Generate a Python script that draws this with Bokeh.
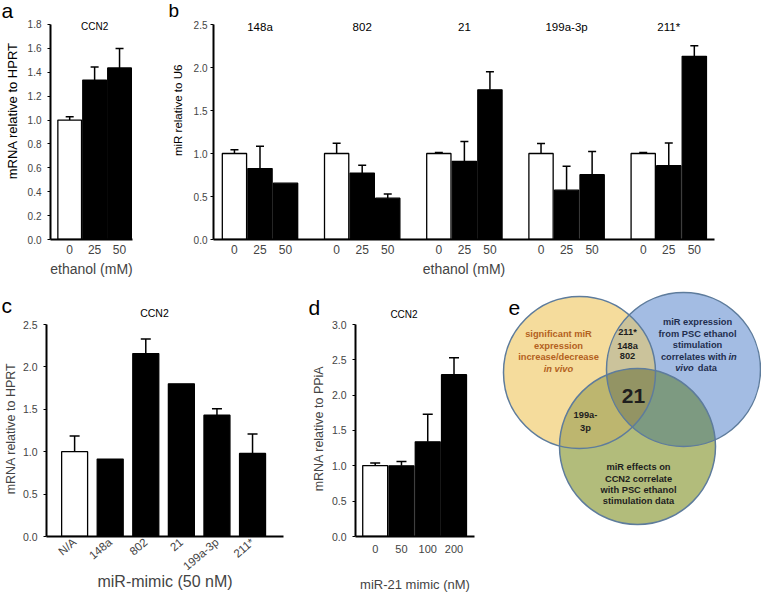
import numpy as np
from bokeh.plotting import figure
from bokeh.models import (ColumnDataSource, FixedTicker, Label, LabelSet, Range1d,
                          PrintfTickFormatter)
from bokeh.layouts import row, column
from bokeh.embed import file_html
from bokeh.resources import INLINE
from bokeh.core.properties import value

FONT = "Liberation Sans"

# ---------------- data ----------------
a_doses = ["0", "25", "50"]
a_mean = [1.00, 1.335, 1.436]
a_sem = [0.027, 0.11, 0.163]

b_mirs = ["148a", "802", "21", "199a-3p", "211*"]
b_doses = ["0", "25", "50"]
b_mean = [[1.00, 0.825, 0.655],
          [1.00, 0.772, 0.480],
          [1.00, 0.909, 1.740],
          [1.00, 0.573, 0.753],
          [1.00, 0.858, 2.130]]
b_sem = [[0.045, 0.26, 0.0],
         [0.12, 0.09, 0.05],
         [0.012, 0.23, 0.21],
         [0.115, 0.28, 0.27],
         [0.012, 0.265, 0.124]]

c_mimics = ["N/A", "148a", "802", "21", "199a-3p", "211*"]
c_mean = [1.00, 0.913, 2.157, 1.80, 1.43, 0.98]
c_sem = [0.186, 0.0, 0.173, 0.0, 0.076, 0.23]

d_conc = ["0", "50", "100", "200"]
d_mean = [1.003, 1.00, 1.34, 2.29]
d_sem = [0.037, 0.06, 0.39, 0.24]

panel_titles = ["CCN2", "CCN2", "CCN2"]  # panels a, c, d
panel_letters = ["a", "b", "c", "d", "e"]
a_ylabel = "mRNA relative to HPRT"
b_ylabel = "miR relative to U6"

venn_yellow = ["significant miR", "expression", "increase/decrease"]
venn_yellow_italic = "in vivo"
venn_blue = ["miR expression", "from PSC ethanol", "stimulation"]
venn_blue_mixed = [("correlates with", "in"), ("vivo", "data")]
venn_green = ["miR effects on", "CCN2 correlate", "with PSC ethanol", "stimulation data"]
venn_yb = ["211*", "148a", "802"]
venn_yg = ["199a-", "3p"]
venn_all = "21"


# ---------------- helpers ----------------
def make_fig(w, h, xr, ymax, ytop, ystep, bl, br, bb):
    p = figure(width=w, height=h, x_range=Range1d(*xr), y_range=Range1d(0, ytop),
               output_backend="svg", toolbar_location=None, title=None,
               min_border_left=bl, min_border_right=br, min_border_top=0,
               min_border_bottom=bb)
    p.grid.visible = False
    p.outline_line_color = None
    p.background_fill_color = "white"
    p.border_fill_color = "white"
    n = int(round(ymax / ystep))
    ya = p.yaxis[0]
    ya.bounds = (0, ymax)
    ya.ticker = FixedTicker(ticks=[round(i * ystep, 3) for i in range(n + 1)], minor_ticks=[])
    ya.formatter = PrintfTickFormatter(format="%.1f")
    ya.axis_line_width = 2
    ya.major_tick_out = 3
    ya.major_tick_in = 0
    ya.minor_tick_out = 0
    ya.minor_tick_in = 0
    ya.major_label_text_font = FONT
    ya.major_label_text_font_size = "10px"
    ya.axis_label_text_font = FONT
    ya.axis_label_text_font_style = "normal"
    xa = p.xaxis[0]
    xa.axis_line_width = 2
    xa.major_tick_out = 0
    xa.major_tick_in = 0
    xa.minor_tick_out = 0
    xa.minor_tick_in = 0
    xa.major_label_text_font = FONT
    xa.axis_label_text_font = FONT
    xa.axis_label_text_font_style = "normal"
    return p


def strip(w, h):
    s = figure(width=w, height=h, x_range=Range1d(0, w), y_range=Range1d(0, h),
               output_backend="svg", toolbar_location=None, title=None, min_border=0,
               x_axis_location=None, y_axis_location=None)
    s.grid.visible = False
    s.outline_line_color = None
    s.background_fill_color = "white"
    s.border_fill_color = "white"
    return s


def stext(s, x, y, txt, size, align="left", baseline="middle", angle=0.0):
    s.text(x=[x], y=[y], text=[txt], text_font=value(FONT), text_font_size=value(size),
           text_align=align, text_baseline=baseline, text_color="black", angle=angle)


def set_xticks(p, xs, labels):
    xa = p.xaxis[0]
    xa.ticker = FixedTicker(ticks=list(xs), minor_ticks=[])
    xa.major_label_overrides = {int(x): l for x, l in zip(xs, labels)}


def draw_bars(p, xs, means, sems, width, ctrl, cap):
    fills = ["white" if i in ctrl else "black" for i in range(len(xs))]
    src = ColumnDataSource(dict(x=list(xs), top=list(means), fill=fills))
    ex = [x for x, s in zip(xs, sems) if s > 0]
    lo = [m for m, s in zip(means, sems) if s > 0]
    hi = [m + s for m, s in zip(means, sems) if s > 0]
    p.segment(x0=ex, y0=lo, x1=ex, y1=hi, line_color="black", line_width=1.5)
    p.scatter(x=ex, y=hi, marker="dash", size=cap, line_color="black", line_width=1.5)
    p.vbar(x="x", top="top", width=width, fill_color="fill", line_color="black",
           line_width=1.3, source=src)


# ---------------- side columns for panel a / b (letter + y label) ----------------
side_a = strip(24, 285)
stext(side_a, 1, 272.5, panel_letters[0], "21px")
stext(side_a, 12, 153.5, a_ylabel, "13px", align="center", angle=np.pi / 2)

side_b = strip(50, 285)
stext(side_b, 28, 273, panel_letters[1], "19px")
stext(side_b, 37, 154, b_ylabel, "11.5px", align="center", angle=np.pi / 2)

# strip above panels c / d (letters + titles)
cd_strip = strip(492, 35)
stext(cd_strip, 1, 15, panel_letters[2], "21px")
stext(cd_strip, 308, 13.3, panel_letters[3], "21px")
stext(cd_strip, 154, 8, panel_titles[1], "10.5px", align="center")
stext(cd_strip, 403.5, 6.5, panel_titles[2], "10px", align="center")

# ---------------- panel a ----------------
pa = make_fig(116, 285, (-0.77, 2.52), 1.8, 2.0009, 0.2, 24, 8, 46)
ax = list(range(len(a_doses)))
draw_bars(pa, ax, a_mean, a_sem, 0.95, [0], 8)
set_xticks(pa, ax, a_doses)
pa.yaxis[0].major_label_standoff = 6
pa.xaxis[0].axis_label = "ethanol (mM)"
pa.xaxis[0].axis_label_text_font_size = "14px"
pa.xaxis[0].major_label_text_font_size = "12px"
pa.xaxis[0].major_label_standoff = 5
pa.xaxis[0].axis_label_standoff = 4
pa.add_layout(Label(x=1, y=1.8, text=panel_titles[0], text_font=FONT, text_font_size="10px",
                    text_align="center", text_baseline="middle", y_offset=-2,
                    text_color="black"))

# ---------------- panel b ----------------
G = 4
pb = make_fig(571, 285, (-0.82, 18.79), 2.5, 2.7791, 0.5, 21, 47, 46)
bx, blab, bm, bs, bctrl = [], [], [], [], []
for g in range(len(b_mirs)):
    for j in range(len(b_doses)):
        if j == 0:
            bctrl.append(len(bx))
        bx.append(g * G + j)
        blab.append(b_doses[j])
        bm.append(b_mean[g][j])
        bs.append(b_sem[g][j])
draw_bars(pb, bx, bm, bs, 0.95, bctrl, 8)
set_xticks(pb, bx, blab)
pb.yaxis[0].major_label_standoff = 3
pb.xaxis[0].axis_label = "ethanol (mM)"
pb.xaxis[0].axis_label_text_font_size = "14px"
pb.xaxis[0].major_label_text_font_size = "12px"
pb.xaxis[0].major_label_standoff = 5
pb.xaxis[0].axis_label_standoff = 4
bt_src = ColumnDataSource(dict(x=[g * G + 1 for g in range(len(b_mirs))],
                               y=[2.5] * len(b_mirs), t=b_mirs))
pb.add_layout(LabelSet(x="x", y="y", text="t", source=bt_src, text_align="center",
                       text_baseline="middle", y_offset=-2, text_font=value(FONT),
                       text_font_size=value("11.5px"), text_color="black"))

# ---------------- panel c ----------------
pc = make_fig(308, 274, (-0.79, 5.87), 2.5, 2.547, 0.5, 46, 25, 57)
cx = list(range(len(c_mimics)))
draw_bars(pc, cx, c_mean, c_sem, 0.73, [0], 10)
set_xticks(pc, cx, c_mimics)
pc.xaxis[0].major_label_orientation = 0.7
pc.xaxis[0].major_label_text_font_size = "11.5px"
pc.xaxis[0].major_label_standoff = 4
pc.xaxis[0].axis_label = "miR-mimic (50 nM)"
pc.xaxis[0].axis_label_text_font_size = "16px"
pc.xaxis[0].axis_label_standoff = -7
pc.yaxis[0].axis_label = "mRNA relative to HPRT"
pc.yaxis[0].axis_label_text_font_size = "12.5px"
pc.yaxis[0].major_label_text_font_size = "10.5px"
pc.yaxis[0].major_label_standoff = 6
pc.yaxis[0].axis_label_standoff = 2

# ---------------- panel d ----------------
pd_ = make_fig(184, 274, (-0.75, 3.78), 3.0, 3.056, 0.5, 44, 18, 56)
dx = list(range(len(d_conc)))
draw_bars(pd_, dx, d_mean, d_sem, 0.95, [0], 10)
set_xticks(pd_, dx, d_conc)
pd_.xaxis[0].major_label_text_font_size = "11px"
pd_.xaxis[0].major_label_standoff = 8
pd_.xaxis[0].axis_label = "miR-21 mimic (nM)"
pd_.xaxis[0].axis_label_text_font_size = "13px"
pd_.xaxis[0].axis_label_standoff = 21
pd_.yaxis[0].axis_label = "mRNA relative to PPiA"
pd_.yaxis[0].axis_label_text_font_size = "12.5px"
pd_.yaxis[0].major_label_text_font_size = "10.5px"
pd_.yaxis[0].major_label_standoff = 6
pd_.yaxis[0].axis_label_standoff = 3

# ---------------- panel e (Venn) ----------------
W_E, H_E = 269, 309
pe = strip(W_E, H_E)

# circle layout (yellow, blue, green): centre x, centre y, radius
circles = [(87.0, 222.0, 76.0), (191.0, 225.0, 77.0), (145.0, 148.0, 78.0)]
solo_cols = ["#F5DC9C", "#A3BCE3", "#B2BC7B"]


def circ_pts(c, n=600):
    t = np.linspace(0, 2 * np.pi, n, endpoint=False)
    return np.c_[c[0] + c[2] * np.cos(t), c[1] + c[2] * np.sin(t)]


def region(cs):
    pts = []
    for i, c in enumerate(cs):
        b = circ_pts(c)
        m = np.ones(len(b), bool)
        for j, o in enumerate(cs):
            if j != i:
                m &= np.hypot(b[:, 0] - o[0], b[:, 1] - o[1]) <= o[2]
        pts.append(b[m])
    P = np.vstack(pts)
    ctr = P.mean(axis=0)
    order = np.argsort(np.arctan2(P[:, 1] - ctr[1], P[:, 0] - ctr[0]))
    return P[order]


pe.circle(x=[c[0] for c in circles], y=[c[1] for c in circles],
          radius=[c[2] for c in circles], fill_color=solo_cols, line_color=None)
pairs = [(0, 1), (0, 2), (1, 2)]
pair_cols = ["#CBC39B", "#BDB66F", "#7D9A81"]
regs = [region([circles[i], circles[j]]) for i, j in pairs]
regs.append(region(circles))
pe.patches(xs=[r[:, 0].tolist() for r in regs], ys=[r[:, 1].tolist() for r in regs],
           fill_color=pair_cols + ["#939464"], line_color=None)
pe.circle(x=[c[0] for c in circles], y=[c[1] for c in circles],
          radius=[c[2] for c in circles], fill_color=None, line_color="#5E7C9C",
          line_width=1.5)


def vtext(x, ys, lines, color, size="9.3px", style="bold", align="center"):
    pe.text(x=[x] * len(lines), y=ys, text=lines, text_font=value(FONT),
            text_font_size=value(size), text_font_style=style, text_color=color,
            text_align=align, text_baseline="middle")


YEL_T = "#B3611E"
BLU_T = "#1F2E4E"
DRK_T = "#1E1E1E"
vtext(66, [261, 249, 238], venn_yellow, YEL_T)
vtext(66, [226], [venn_yellow_italic], YEL_T, style="bold italic")
vtext(205, [272.3, 260.7, 249.7], venn_blue, BLU_T)
vtext(234, [237.3], [venn_blue_mixed[0][0]], BLU_T, align="right")
vtext(236, [237.3], [venn_blue_mixed[0][1]], BLU_T, style="bold italic", align="left")
vtext(201.3, [226.7], [venn_blue_mixed[1][0]], BLU_T, style="bold italic", align="right")
vtext(205.3, [226.7], [venn_blue_mixed[1][1]], BLU_T, align="left")
vtext(146, [127.3, 115.7, 104.7, 94], venn_green, DRK_T)
vtext(135, [262.3, 249, 238.3], venn_yb, DRK_T)
vtext(93, [180, 167], venn_yg, DRK_T)
vtext(141, [199], [venn_all], DRK_T, size="21px")
stext(pe, 16, 287, panel_letters[4], "21px")

top = row(side_a, pa, side_b, pb, spacing=0)
bottom = row(column(cd_strip, row(pc, pd_, spacing=0), spacing=0), pe, spacing=0)
layout = column(top, bottom, spacing=0)
open("out.html", "w").write(file_html(layout, INLINE))
